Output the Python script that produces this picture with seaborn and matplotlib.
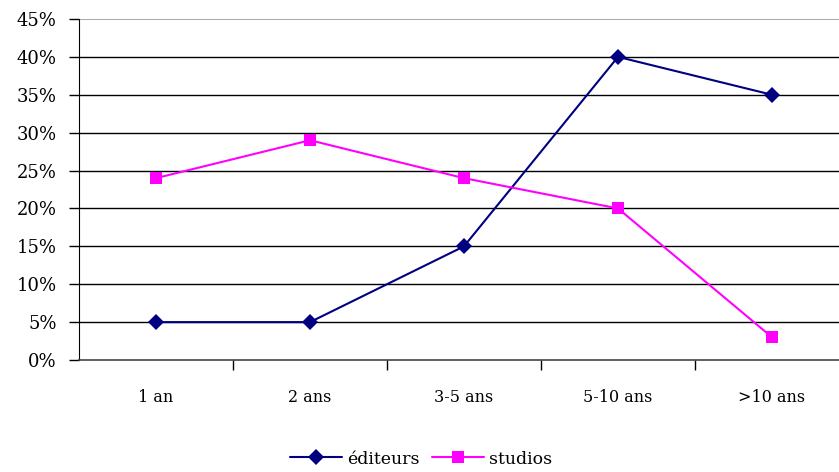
import matplotlib
matplotlib.use("Agg")
import matplotlib.pyplot as plt
from matplotlib.lines import Line2D
import seaborn as sns
import pandas as pd

categories = ["1 an", "2 ans", "3-5 ans", "5-10 ans", ">10 ans"]
editeurs = [5, 5, 15, 40, 35]
studios = [24, 29, 24, 20, 3]
y_ticks = [0, 5, 10, 15, 20, 25, 30, 35, 40, 45]

sns.set_style("white", {"text.color": "black", "xtick.color": "black",
                        "ytick.color": "black", "axes.labelcolor": "black"})
plt.rcParams["font.family"] = ["DejaVu Serif"]

df = pd.DataFrame({
    "pos": list(range(len(categories))) * 2,
    "value": editeurs + studios,
    "serie": ["éditeurs"] * len(categories) + ["studios"] * len(categories),
})

fig = plt.figure(figsize=(8.39, 4.72), dpi=100)
ax = fig.add_axes([79 / 839, 112 / 472, 770 / 839, 341 / 472])

for y in y_ticks[1:-1]:
    ax.axhline(y, color="black", lw=1.0, zorder=0)
ax.axhline(45, color="#999999", lw=1.2, zorder=0)

sns.lineplot(data=df, x="pos", y="value", hue="serie", style="serie",
             palette={"éditeurs": "#000080", "studios": "#FF00FF"},
             markers={"éditeurs": "D", "studios": "s"},
             dashes=False, markersize=8, linewidth=1.5,
             markeredgewidth=0, ax=ax, legend=False)

ax.set_xlim(-0.5, len(categories) - 0.5)
ax.set_ylim(0, 45)
ax.set_yticks(y_ticks)
ax.set_yticklabels([f"{v}%" for v in y_ticks], fontsize=13)
ax.set_xticks(range(len(categories)))
ax.set_xticklabels(categories, fontsize=11.5)
ax.set_xticks([i + 0.5 for i in range(len(categories) - 1)], minor=True)
ax.tick_params(axis="x", which="major", bottom=False, length=0, pad=21)
ax.tick_params(axis="x", which="minor", bottom=True, length=7, width=1,
               color="black", direction="out")
ax.tick_params(axis="y", left=True, length=7, width=1, color="black",
               direction="out", pad=9)
ax.set_xlabel("")
ax.set_ylabel("")

sns.despine(ax=ax, top=True, right=True)
ax.spines["left"].set_color("black")
ax.spines["bottom"].set_color("#444444")
ax.spines["bottom"].set_linewidth(1.2)

handles = [
    Line2D([0], [0], color="#000080", marker="D", markersize=8, lw=1.5, markeredgewidth=0),
    Line2D([0], [0], color="#FF00FF", marker="s", markersize=8, lw=1.5, markeredgewidth=0),
]
fig.legend(handles, ["éditeurs", "studios"], loc="center",
           bbox_to_anchor=(421 / 839, 1 - 459 / 472),
           ncol=2, frameon=False, fontsize=12.5, handlelength=3.0,
           handletextpad=0.3, columnspacing=0.7)

fig.savefig("out.png", dpi=100)
